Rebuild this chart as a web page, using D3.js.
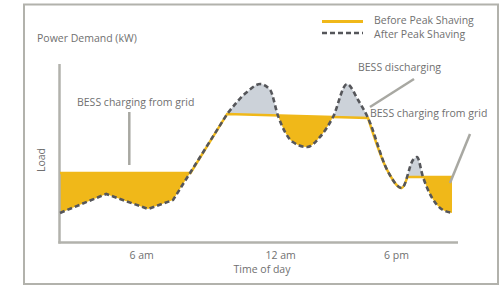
<!DOCTYPE html>
<html>
<head>
<meta charset="utf-8">
<script src="https://cdn.jsdelivr.net/npm/d3@7"></script>
<style>
  body { margin: 0; background: #fff; }
  text { font-family: "Open Sans", sans-serif; fill: #707070; }
</style>
</head>
<body>
<svg id="chart" width="501" height="286"></svg>
<script>
// Load after peak shaving (dashed), time 0..100 along the axis, load 0..100
const afterTime = [0, 11.6, 22.1, 28.4, 42.0, 47.0, 50.3, 52.8, 54.8, 58.5, 62.1, 65.3, 68.6, 72.1, 74.9, 77.4, 82.2, 85.9, 88.7, 89.7, 91.2, 95.5, 98.5];
const afterLoad = [16.8, 27.4, 19.0, 24.0, 72.1, 84.4, 88.8, 85.5, 70.9, 56.4, 53.6, 59.2, 70.4, 88.8, 79.9, 69.8, 40.8, 30.7, 46.4, 48.0, 36.9, 19.6, 16.8];
// first 5 points are straight segments, the rest is smooth
const afterSmoothFrom = 4;

// Load before peak shaving (yellow line)
const beforeTime = [0, 32.8, 42.0, 77.4, 82.2, 85.9, 87.3, 98.7];
const beforeLoad = [39.1, 39.1, 72.1, 69.8, 40.8, 30.7, 36.9, 36.9];
const beforeSmooth = [3, 6]; // smooth between these indices

const tickTimes = [20.4, 55.3, 84.4];
const tickLabels = ["6 am", "12 am", "6 pm"];

const svg = d3.select("#chart");

// outer frame
svg.append("rect")
    .attr("x", 24).attr("y", 4.5)
    .attr("width", 474).attr("height", 279.5)
    .attr("fill", "none")
    .attr("stroke", "#b2b2ac")
    .attr("stroke-width", 2);

const x = d3.scaleLinear().domain([0, 100]).range([60, 458]);
const y = d3.scaleLinear().domain([0, 100]).range([243, 64]);

const afterPts = afterTime.map((t, i) => [x(t), y(afterLoad[i])]);
const beforePts = beforeTime.map((t, i) => [x(t), y(beforeLoad[i])]);

const linear = d3.line().curve(d3.curveLinear);
const smooth = d3.line().curve(d3.curveMonotoneX);

// join pieces drawn with different curves into one continuous path
function joinPieces(pieces) {
    let d = "";
    pieces.forEach(([gen, pts], i) => {
        const s = gen(pts);
        d += i === 0 ? s : s.replace(/^M[^A-Za-z]*/, "");
    });
    return d;
}

const afterPath = joinPieces([
    [linear, afterPts.slice(0, afterSmoothFrom + 1)],
    [smooth, afterPts.slice(afterSmoothFrom)]
]);
const beforePath = joinPieces([
    [linear, beforePts.slice(0, beforeSmooth[0] + 1)],
    [smooth, beforePts.slice(beforeSmooth[0], beforeSmooth[1] + 1)],
    [linear, beforePts.slice(beforeSmooth[1])]
]);

const x0 = afterPts[0][0], x1 = afterPts[afterPts.length - 1][0];
const bx0 = beforePts[0][0], bx1 = beforePts[beforePts.length - 1][0];
const yTop = 0, yBottom = 286;

const defs = svg.append("defs");
defs.append("clipPath").attr("id", "aboveAfter")
    .append("path")
    .attr("d", afterPath + `L${x1},${yTop}L${x0},${yTop}Z`);
defs.append("clipPath").attr("id", "belowAfter")
    .append("path")
    .attr("d", afterPath + `L${x1},${yBottom}L${x0},${yBottom}Z`);

// charging: before above after
svg.append("path")
    .attr("d", beforePath + `L${bx1},${yBottom}L${bx0},${yBottom}Z`)
    .attr("clip-path", "url(#aboveAfter)")
    .attr("fill", "#f0b819");

// discharging: after above before
svg.append("path")
    .attr("d", beforePath + `L${bx1},${yTop}L${bx0},${yTop}Z`)
    .attr("clip-path", "url(#belowAfter)")
    .attr("fill", "#ccd2d9");

// axes
svg.append("line")
    .attr("x1", 59.5).attr("x2", 59.5).attr("y1", 64).attr("y2", 243.5)
    .attr("stroke", "#b2b2ac").attr("stroke-width", 2.5);
svg.append("line")
    .attr("x1", 58.3).attr("x2", 458).attr("y1", 242.5).attr("y2", 242.5)
    .attr("stroke", "#b2b2ac").attr("stroke-width", 2.5);

const xAxis = d3.axisBottom(x)
    .tickValues(tickTimes)
    .tickFormat((d, i) => tickLabels[i])
    .tickSize(0).tickPadding(9);
const gx = svg.append("g").attr("transform", "translate(0,243)").call(xAxis);
gx.select(".domain").remove();
gx.selectAll("text")
    .style("font-family", "Open Sans, sans-serif")
    .style("font-size", "10.5px")
    .attr("fill", "#707070");

// lines
svg.append("path")
    .attr("d", beforePath)
    .attr("fill", "none")
    .attr("stroke", "#f0b819")
    .attr("stroke-width", 2.5);
svg.append("path")
    .attr("d", afterPath)
    .attr("fill", "none")
    .attr("stroke", "#55565a")
    .attr("stroke-width", 2.6)
    .attr("stroke-dasharray", "5,3");

// leader lines
const leaders = [[129.3, 112, 129.3, 165], [414, 79, 370, 107], [470, 134, 450, 183]];
svg.selectAll(".leader").data(leaders).enter().append("line")
    .attr("x1", d => d[0]).attr("y1", d => d[1])
    .attr("x2", d => d[2]).attr("y2", d => d[3])
    .attr("stroke", "#a8a8a2").attr("stroke-width", 2.5);

// texts
function label(txt, tx, ty, anchor) {
    return svg.append("text").attr("x", tx).attr("y", ty)
        .attr("text-anchor", anchor || "start")
        .style("font-size", "10.5px").text(txt);
}
label("Power Demand (kW)", 37, 42);
label("BESS charging from grid", 77, 106);
label("BESS discharging", 358, 71);
label("BESS charging from grid", 370, 117);
label("Time of day", 262, 273, "middle");
svg.append("text")
    .attr("transform", "translate(45,160) rotate(-90)")
    .attr("text-anchor", "middle")
    .style("font-size", "10.5px").text("Load");

// legend
svg.append("line").attr("x1", 322).attr("x2", 363).attr("y1", 21.5).attr("y2", 21.5)
    .attr("stroke", "#f0b819").attr("stroke-width", 3);
svg.append("line").attr("x1", 322).attr("x2", 363).attr("y1", 33).attr("y2", 33)
    .attr("stroke", "#55565a").attr("stroke-width", 2.6).attr("stroke-dasharray", "5,3");
label("Before Peak Shaving", 374, 24);
label("After Peak Shaving", 374, 37.5);
</script>
</body>
</html>
